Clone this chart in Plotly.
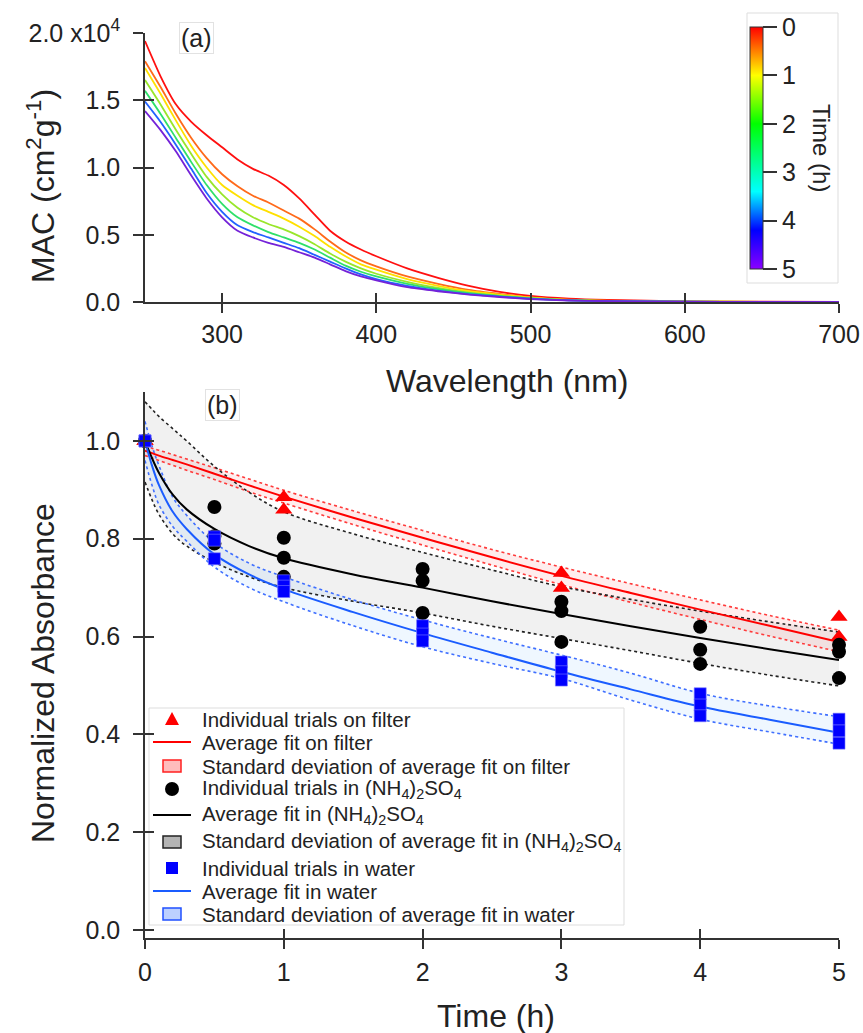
import plotly.graph_objects as go

W, H = 863, 1033
def px(x): return x / W
def py(y): return 1 - y / H

FONT = "Liberation Sans, Arial, sans-serif"
AX = "#333333"

# ---------------- Panel (a) data: MAC spectra (units of 1e4 cm2 g-1) ----------------
wavelength = [250, 260, 270, 280, 290, 300, 310, 320, 330, 340, 350, 360, 370, 380, 390,
              400, 420, 440, 460, 480, 500, 525, 550, 600, 650, 700]
times_a = [0, 0.5, 1, 2, 3, 4, 5]
mac_0h = [1.94, 1.68, 1.47, 1.34, 1.24, 1.15, 1.06, 0.99, 0.94, 0.87, 0.77, 0.65, 0.53, 0.45, 0.39,
          0.34, 0.25, 0.18, 0.12, 0.075, 0.045, 0.025, 0.015, 0.005, 0.002, 0.001]
mac_05h = [1.79, 1.60, 1.40, 1.22, 1.07, 0.95, 0.86, 0.79, 0.74, 0.68, 0.62, 0.54, 0.45, 0.37, 0.31,
           0.265, 0.19, 0.135, 0.09, 0.06, 0.035, 0.018, 0.01, 0.003, 0.001, 0.0005]
mac_1h = [1.74, 1.55, 1.35, 1.16, 1.00, 0.87, 0.79, 0.72, 0.67, 0.62, 0.56, 0.49, 0.41, 0.34, 0.28,
          0.24, 0.17, 0.12, 0.08, 0.055, 0.032, 0.016, 0.009, 0.003, 0.001, 0.0005]
mac_2h = [1.65, 1.47, 1.28, 1.10, 0.93, 0.80, 0.70, 0.63, 0.58, 0.54, 0.49, 0.43, 0.36, 0.30, 0.25,
          0.21, 0.15, 0.105, 0.07, 0.048, 0.028, 0.014, 0.008, 0.003, 0.001, 0.0005]
mac_3h = [1.57, 1.40, 1.22, 1.04, 0.87, 0.73, 0.63, 0.57, 0.52, 0.48, 0.44, 0.39, 0.33, 0.27, 0.225,
          0.19, 0.135, 0.095, 0.065, 0.044, 0.026, 0.013, 0.007, 0.0025, 0.001, 0.0005]
mac_4h = [1.49, 1.34, 1.17, 0.99, 0.81, 0.67, 0.57, 0.52, 0.48, 0.44, 0.40, 0.35, 0.30, 0.25, 0.205,
          0.17, 0.12, 0.085, 0.058, 0.04, 0.024, 0.012, 0.006, 0.002, 0.001, 0.0005]
mac_5h = [1.42, 1.28, 1.12, 0.94, 0.77, 0.63, 0.53, 0.48, 0.44, 0.41, 0.37, 0.33, 0.28, 0.23, 0.19,
          0.16, 0.11, 0.08, 0.055, 0.037, 0.022, 0.011, 0.006, 0.002, 0.001, 0.0005]
mac_series = [mac_0h, mac_05h, mac_1h, mac_2h, mac_3h, mac_4h, mac_5h]
line_colors_a = ["#ff1010", "#ff6a1a", "#ffe000", "#99e62a", "#2fe06a", "#2262ff", "#7422d8"]

x_ticks_a = [300, 400, 500, 600, 700]
y_ticks_a = [0, 0.5, 1.0, 1.5, 2.0]
y_ticktext_a = ["0.0", "0.5", "1.0", "1.5", "2.0 x10<sup>4</sup>"]
cbar_ticks = [0, 1, 2, 3, 4, 5]

# ---------------- Panel (b) data ----------------
t_fit = [0, 0.05, 0.1, 0.2, 0.3, 0.5, 0.75, 1, 1.5, 2, 2.5, 3, 3.5, 4, 4.5, 5]
filter_fit = [0.98, 0.975, 0.97, 0.961, 0.952, 0.933, 0.909, 0.886, 0.843, 0.802, 0.762, 0.724, 0.689, 0.655, 0.622, 0.589]
filter_up = [0.99, 0.985, 0.981, 0.972, 0.963, 0.945, 0.922, 0.899, 0.857, 0.817, 0.778, 0.742, 0.708, 0.675, 0.643, 0.613]
filter_lo = [0.97, 0.965, 0.96, 0.95, 0.94, 0.921, 0.896, 0.873, 0.829, 0.787, 0.746, 0.706, 0.670, 0.635, 0.601, 0.569]
as_fit = [1.0, 0.965, 0.935, 0.89, 0.86, 0.82, 0.785, 0.76, 0.727, 0.70, 0.672, 0.646, 0.621, 0.597, 0.574, 0.552]
as_up = [1.08, 1.065, 1.05, 1.025, 1.0, 0.948, 0.895, 0.855, 0.81, 0.772, 0.736, 0.702, 0.676, 0.652, 0.63, 0.609]
as_lo = [0.916, 0.88, 0.85, 0.81, 0.785, 0.752, 0.722, 0.70, 0.672, 0.648, 0.621, 0.596, 0.571, 0.545, 0.521, 0.499]
water_fit = [1.0, 0.95, 0.91, 0.855, 0.82, 0.768, 0.727, 0.697, 0.65, 0.607, 0.567, 0.528, 0.492, 0.457, 0.43, 0.403]
water_up = [1.04, 0.99, 0.95, 0.885, 0.848, 0.792, 0.75, 0.722, 0.675, 0.634, 0.597, 0.562, 0.525, 0.484, 0.458, 0.436]
water_lo = [0.96, 0.91, 0.87, 0.825, 0.795, 0.742, 0.70, 0.671, 0.622, 0.579, 0.545, 0.514, 0.47, 0.431, 0.405, 0.38]

filter_t = [0, 0, 1, 1, 3, 3, 5, 5]
filter_y = [1.0, 1.0, 0.885, 0.859, 0.730, 0.699, 0.640, 0.599]
as_t = [0, 0, 0, 0.5, 0.5, 0.5, 1, 1, 1, 2, 2, 2, 3, 3, 3, 4, 4, 4, 5, 5, 5]
as_y = [1.0, 1.0, 1.0, 0.865, 0.805, 0.79, 0.802, 0.761, 0.722, 0.738, 0.714, 0.648,
        0.671, 0.652, 0.589, 0.620, 0.573, 0.544, 0.583, 0.569, 0.515]
water_t = [0, 0, 0, 0.5, 0.5, 0.5, 1, 1, 1, 2, 2, 2, 3, 3, 3, 4, 4, 4, 5, 5, 5]
water_y = [1.0, 1.0, 1.0, 0.804, 0.797, 0.759, 0.714, 0.703, 0.692, 0.622, 0.605, 0.591,
           0.548, 0.528, 0.511, 0.483, 0.460, 0.438, 0.431, 0.407, 0.382]

x_ticks_b = [0, 1, 2, 3, 4, 5]
y_ticks_b = [0, 0.2, 0.4, 0.6, 0.8, 1.0]

legend_labels = [
    "Individual trials on filter",
    "Average fit on filter",
    "Standard deviation of average fit on filter",
    "Individual trials in (NH<sub>4</sub>)<sub>2</sub>SO<sub>4</sub>",
    "Average fit in (NH<sub>4</sub>)<sub>2</sub>SO<sub>4</sub>",
    "Standard deviation of average fit in (NH<sub>4</sub>)<sub>2</sub>SO<sub>4</sub>",
    "Individual trials in water",
    "Average fit in water",
    "Standard deviation of average fit in water",
]

fig = go.Figure()

# ---- Panel (a) traces ----
for t, ys, c in zip(times_a, mac_series, line_colors_a):
    fig.add_trace(go.Scatter(x=wavelength, y=ys, mode="lines", xaxis="x", yaxis="y",
                             line=dict(color=c, width=1.8, shape="spline", smoothing=0.6),
                             showlegend=False, hoverinfo="skip"))

colorscale = [[0.0, "#8a00ff"], [0.16, "#0000ff"], [0.32, "#00ffff"], [0.6, "#00ff00"],
              [0.8, "#ffff00"], [0.9, "#ff8000"], [1.0, "#ff0000"]]
fig.add_trace(go.Scatter(
    x=[None] * len(times_a), y=[None] * len(times_a), mode="markers", xaxis="x", yaxis="y",
    marker=dict(color=[-t for t in times_a], cmin=-5, cmax=0, colorscale=colorscale, showscale=True,
                colorbar=dict(x=px(750), xanchor="left", y=py(148), yanchor="middle",
                              lenmode="pixels", len=242, thicknessmode="pixels", thickness=13,
                              xpad=0, ypad=0, outlinewidth=1, outlinecolor=AX,
                              tickvals=[-v for v in cbar_ticks], ticktext=[str(v) for v in cbar_ticks],
                              ticks="outside", ticklen=14, tickwidth=1.5, tickcolor=AX,
                              tickfont=dict(size=25, color="#222", family=FONT),
                              borderwidth=0)),
    showlegend=False, hoverinfo="skip"))

# ---- Panel (b) traces ----
def band(lo, up, fill):
    fig.add_trace(go.Scatter(x=t_fit, y=lo, mode="lines", xaxis="x2", yaxis="y2",
                             line=dict(width=0, shape="spline"), showlegend=False, hoverinfo="skip"))
    fig.add_trace(go.Scatter(x=t_fit, y=up, mode="lines", xaxis="x2", yaxis="y2", fill="tonexty",
                             fillcolor=fill, line=dict(width=0, shape="spline"),
                             showlegend=False, hoverinfo="skip"))

band(filter_lo, filter_up, "rgba(255,0,0,0.07)")
band(as_lo, as_up, "rgba(0,0,0,0.055)")
band(water_lo, water_up, "rgba(30,144,255,0.07)")

for ys, c in [(filter_up, "#ff3b3b"), (filter_lo, "#ff3b3b"), (as_up, "#222222"), (as_lo, "#222222"),
              (water_up, "#3f6fff"), (water_lo, "#3f6fff")]:
    fig.add_trace(go.Scatter(x=t_fit, y=ys, mode="lines", xaxis="x2", yaxis="y2",
                             line=dict(color=c, width=1.6, dash="dot", shape="spline"),
                             showlegend=False, hoverinfo="skip"))

for ys, c in [(filter_fit, "#ff0000"), (as_fit, "#000000"), (water_fit, "#1a5cff")]:
    fig.add_trace(go.Scatter(x=t_fit, y=ys, mode="lines", xaxis="x2", yaxis="y2",
                             line=dict(color=c, width=2, shape="spline"),
                             showlegend=False, hoverinfo="skip"))

fig.add_trace(go.Scatter(x=filter_t, y=filter_y, mode="markers", xaxis="x2", yaxis="y2", cliponaxis=False,
                         marker=dict(symbol="triangle-up", size=15, color="#ff0000", line=dict(width=0)),
                         showlegend=False, hoverinfo="skip"))
fig.add_trace(go.Scatter(x=as_t, y=as_y, mode="markers", xaxis="x2", yaxis="y2", cliponaxis=False,
                         marker=dict(symbol="circle", size=14, color="#000000", line=dict(width=0)),
                         showlegend=False, hoverinfo="skip"))
fig.add_trace(go.Scatter(x=water_t, y=water_y, mode="markers", xaxis="x2", yaxis="y2", cliponaxis=False,
                         marker=dict(symbol="square", size=12, color="#0000ff", line=dict(width=0.6, color="#7a7aff")),
                         showlegend=False, hoverinfo="skip"))

# dummy traces so the overlay (inside-tick) axes are drawn
for xa, ya in [("x3", "y"), ("x", "y3"), ("x4", "y2"), ("x2", "y4")]:
    fig.add_trace(go.Scatter(x=[None], y=[None], xaxis=xa, yaxis=ya, showlegend=False, hoverinfo="skip"))

dom_x = [px(145), px(839)]
dom_ya = [py(302), py(33)]
dom_yb = [py(938), py(392)]
yb_range = [-0.0164, 1.1]

base = dict(showgrid=False, zeroline=False, automargin=False, linecolor=AX, linewidth=1.5,
            tickcolor=AX, tickwidth=1.5, tickfont=dict(size=25, color="#222", family=FONT))
inside = dict(showgrid=False, zeroline=False, showline=False, showticklabels=False, automargin=False,
              ticks="inside", ticklen=9, tickwidth=1.5, tickcolor=AX)

fig.update_layout(
    width=W, height=H, margin=dict(l=0, r=0, t=0, b=0, autoexpand=False),
    paper_bgcolor="white", plot_bgcolor="white", showlegend=False,
    font=dict(family=FONT, color="#222"),
    xaxis=dict(**base, domain=dom_x, anchor="y", range=[250, 700], tickvals=x_ticks_a, showline=True,
               ticks="outside", ticklen=9, ticklabelstandoff=0),
    yaxis=dict(**base, domain=dom_ya, anchor="x", range=[0, 2.0], tickvals=y_ticks_a, ticktext=y_ticktext_a,
               showline=True, ticks="outside", ticklen=10, ticklabelstandoff=8),
    xaxis3=dict(**inside, overlaying="x", anchor="y", range=[250, 700], tickvals=x_ticks_a),
    yaxis3=dict(**inside, overlaying="y", anchor="x", range=[0, 2.0], tickvals=y_ticks_a),
    xaxis2=dict(**base, domain=dom_x, anchor="y2", range=[0, 5], tickvals=x_ticks_b, showline=True,
                ticks="outside", ticklen=9, ticklabelstandoff=2),
    yaxis2=dict(**base, domain=dom_yb, anchor="x2", range=yb_range, tickvals=y_ticks_b, tickformat=".1f",
                showline=True, ticks="outside", ticklen=10, ticklabelstandoff=8),
    xaxis4=dict(**inside, overlaying="x2", anchor="y2", range=[0, 5], tickvals=x_ticks_b),
    yaxis4=dict(**inside, overlaying="y2", anchor="x2", range=yb_range, tickvals=y_ticks_b),
)

ann = []
def text(x, y, s, size, angle=0, xanchor="center", box=False):
    d = dict(x=px(x), y=py(y), xref="paper", yref="paper", text=s, showarrow=False, textangle=angle,
             xanchor=xanchor, yanchor="middle", font=dict(size=size, family=FONT, color="#222"))
    if box:
        d.update(bordercolor="#e2e2e2", borderwidth=1, borderpad=1)
    ann.append(d)

text(41, 186, "MAC (cm<sup>2</sup>g<sup>-1</sup>)", 32, angle=-90)
text(507, 381, "Wavelength (nm)", 32)
text(43, 673, "Normalized Absorbance", 32, angle=-90)
text(496, 1016, "Time (h)", 32)
text(196, 38, "(a)", 25, box=True)
text(222, 405, "(b)", 25, box=True)
text(822, 148, "Time (h)", 24, angle=90)

# manual legend
rows = [719, 742, 766, 789, 815, 842, 868, 891, 914]
for r, lab in zip(rows, legend_labels):
    text(200, r, lab, 20.5, xanchor="left")

shapes = []
shapes.append(dict(type="rect", xref="paper", yref="paper", x0=px(149), x1=px(624), y0=py(925), y1=py(708),
                   line=dict(color="#dddddd", width=1), fillcolor="white", layer="below"))
shapes.append(dict(type="rect", xref="paper", yref="paper", x0=px(747), x1=px(838), y0=py(283), y1=py(13),
                   line=dict(color="#dddddd", width=1), layer="below"))
r = rows[0]
shapes.append(dict(type="path", xref="paper", yref="paper",
                   path=f"M {px(165)},{py(r+6)} L {px(179)},{py(r+6)} L {px(172)},{py(r-7)} Z",
                   fillcolor="#ff0000", line=dict(width=0)))
for r, c in [(rows[1], "#ff0000"), (rows[4], "#000000"), (rows[7], "#1a5cff")]:
    shapes.append(dict(type="line", xref="paper", yref="paper", x0=px(153), x1=px(191), y0=py(r), y1=py(r),
                       line=dict(color=c, width=2)))
for r, fc, lc in [(rows[2], "#ffbcbc", "#ff2020"), (rows[5], "#b4b4b4", "#222222"), (rows[8], "#bcd0ff", "#2050ff")]:
    shapes.append(dict(type="rect", xref="paper", yref="paper", x0=px(163), x1=px(181), y0=py(r+6), y1=py(r-6),
                       fillcolor=fc, line=dict(color=lc, width=1.5)))
r = rows[3]
shapes.append(dict(type="circle", xref="paper", yref="paper", x0=px(165), x1=px(179), y0=py(r+7), y1=py(r-7),
                   fillcolor="#000000", line=dict(width=0)))
r = rows[6]
shapes.append(dict(type="rect", xref="paper", yref="paper", x0=px(166), x1=px(178), y0=py(r+6), y1=py(r-6),
                   fillcolor="#0000ff", line=dict(width=0)))

fig.update_layout(annotations=ann, shapes=shapes)
fig.write_html("out.html", config={"displayModeBar": False},
               post_script="document.body.style.margin='0px';")
